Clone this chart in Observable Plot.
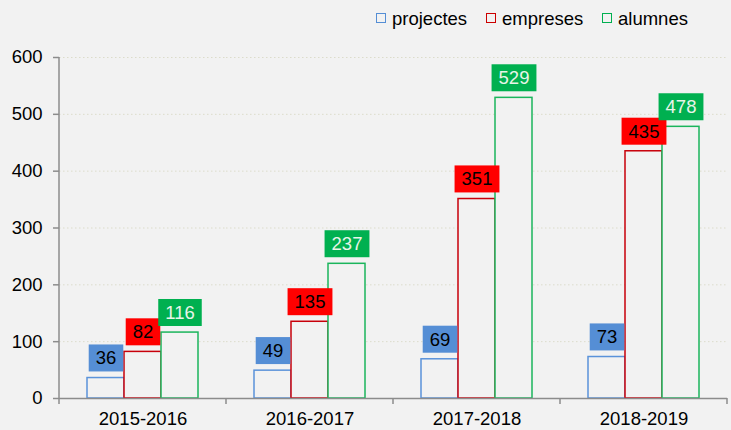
<!DOCTYPE html>
<html>
<head>
<meta charset="utf-8">
<script src="https://cdn.jsdelivr.net/npm/d3@7"></script>
<script src="https://cdn.jsdelivr.net/npm/@observablehq/plot@0.6"></script>
<style>
  body { margin: 0; background: #f2f2f2; font-family: "Liberation Sans", Arial, sans-serif; }
  #legend { position: relative; height: 40px; width: 731px; font-size: 18.5px; color: #000; }
  .sq { position: absolute; top: 13px; width: 10px; height: 10px; box-sizing: border-box; border: 1.5px solid; }
  .lt { position: absolute; top: 9px; line-height: 20px; white-space: nowrap; }
</style>
</head>
<body>
<div id="legend"></div>
<div id="chart"></div>
<script>
const years = ["2015-2016", "2016-2017", "2017-2018", "2018-2019"];
const series = ["projectes", "empreses", "alumnes"];
const projectes = [36, 49, 69, 73];
const empreses = [82, 135, 351, 435];
const alumnes = [116, 237, 529, 478];
const yTicks = [0, 100, 200, 300, 400, 500, 600];

const seriesValues = [projectes, empreses, alumnes];
const strokeColors = ["#5b93da", "#c8000a", "#1bb55c"];
const labelBg = ["#558ed5", "#ff0000", "#00b050"];
const labelText = ["#000000", "#000000", "#e8f4e8"];
const legendSq = ["#558ed5", "#cc0000", "#00b050"];

const data = years.flatMap((year, i) =>
  series.map((s, j) => ({ year, series: s, value: seriesValues[j][i] }))
);

// legend
const legend = document.getElementById("legend");
const sqLeft = [376, 486, 602];
series.forEach((s, j) => {
  const sq = document.createElement("span");
  sq.className = "sq";
  sq.style.left = sqLeft[j] + "px";
  sq.style.borderColor = legendSq[j];
  legend.appendChild(sq);
  const t = document.createElement("span");
  t.className = "lt";
  t.style.left = (sqLeft[j] + 16) + "px";
  t.textContent = s;
  legend.appendChild(t);
});

const plot = Plot.plot({
  width: 731,
  height: 390,
  marginTop: 17,
  marginLeft: 59,
  marginRight: 4,
  marginBottom: 32,
  style: { background: "#f2f2f2", fontFamily: "Liberation Sans, Arial, sans-serif", fontSize: "18.5px", color: "#000", overflow: "visible" },
  fx: { domain: years, padding: 0, label: null },
  x: { domain: series, paddingInner: 0, paddingOuter: 0.715, axis: null },
  y: { domain: [0, 600], label: null },
  marks: [
    Plot.gridY(yTicks.filter(d => d > 0), { stroke: "#dcdccb", strokeOpacity: 1, strokeDasharray: "1.5,2.5", strokeWidth: 1 }),
    Plot.barY(data, {
      fx: "year", x: "series", y: "value",
      fill: "#f2f2f2",
      stroke: d => strokeColors[series.indexOf(d.series)],
      strokeWidth: 1.5
    }),
    Plot.ruleY([0], { stroke: "#8c8c8c", strokeWidth: 1.5 }),
    Plot.axisY({ ticks: yTicks, tickSize: 6, tickPadding: 11, stroke: "#8c8c8c", strokeWidth: 1.5, label: null }),
    Plot.axisFx({ anchor: "bottom", tickSize: 0, tickPadding: 13, label: null }),
    Plot.text(data, {
      fx: "year", x: "series", y: "value",
      text: d => String(d.value),
      dy: -19.5,
      fill: d => labelText[series.indexOf(d.series)]
    })
  ]
});

document.getElementById("chart").appendChild(plot);

// label backgrounds (values are unique, so the text identifies its series)
const svgns = "http://www.w3.org/2000/svg";
plot.querySelectorAll('g[aria-label="text"] text').forEach(t => {
  const d = data.find(e => String(e.value) === t.textContent.trim());
  if (!d) return;
  const j = series.indexOf(d.series);
  const b = t.getBBox();
  const cx = b.x + b.width / 2;
  const cy = b.y + b.height / 2;
  const w = b.width + 14, h = 27;
  const r = document.createElementNS(svgns, "rect");
  r.setAttribute("x", cx - w / 2);
  r.setAttribute("y", cy - h / 2);
  r.setAttribute("width", w);
  r.setAttribute("height", h);
  r.setAttribute("fill", labelBg[j]);
  const tr = t.getAttribute("transform");
  if (tr) r.setAttribute("transform", tr);
  t.parentNode.insertBefore(r, t);
});

// axis line and category boundary ticks
const fxs = plot.scale("fx");
const ys = plot.scale("y");
const [r0, r1] = fxs.range;
const step = (r1 - r0) / years.length;
const y0 = ys.apply(0), yTop = ys.apply(600);
const g = d3.select(plot).append("g").attr("stroke", "#8c8c8c").attr("stroke-width", 1.5);
g.append("line").attr("x1", r0).attr("x2", r0).attr("y1", yTop).attr("y2", y0 + 6);
years.forEach((yr, i) => {
  const x = r0 + step * (i + 1);
  g.append("line").attr("x1", x).attr("x2", x).attr("y1", y0).attr("y2", y0 + 6);
});
</script>
</body>
</html>
